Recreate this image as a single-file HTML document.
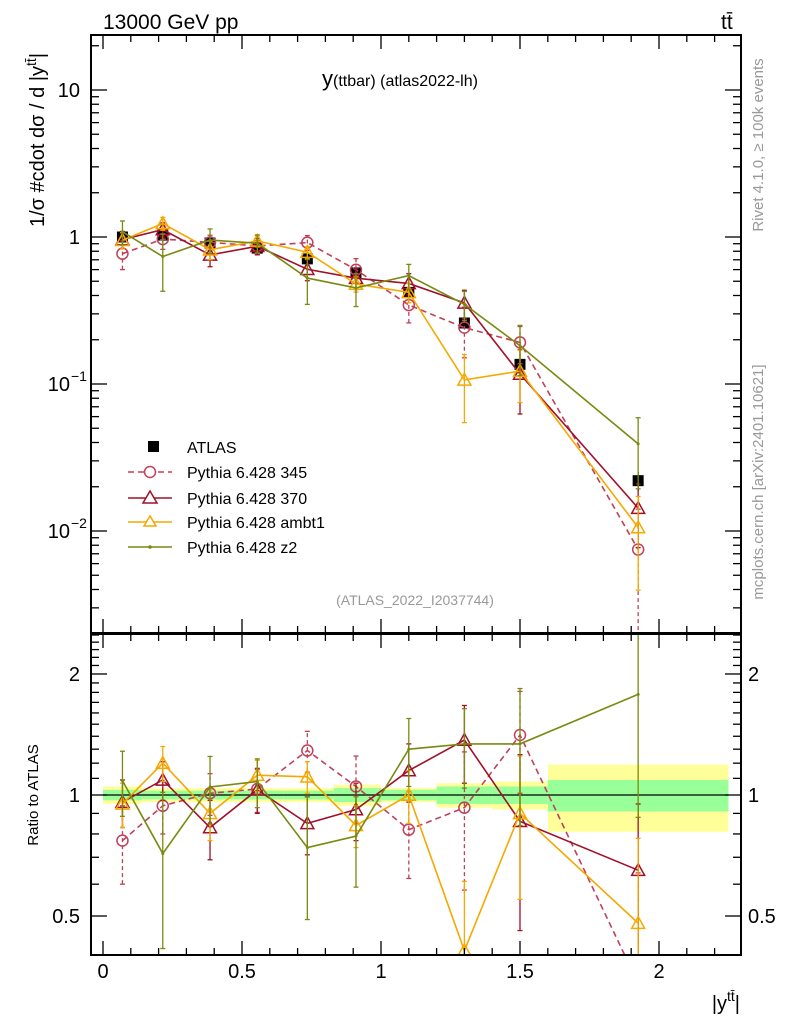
<!DOCTYPE html>
<html><head><meta charset="utf-8"><style>
html,body{margin:0;padding:0;background:#fff;width:786px;height:1024px;overflow:hidden;position:relative}
svg{display:block;font-family:"Liberation Sans",sans-serif}
</style></head><body>
<svg id="c" width="786" height="1024" viewBox="0 0 786 1024" style="position:absolute;left:0;top:0"></svg>
<script>
const binCenters=[0.07,0.215,0.385,0.555,0.735,0.91,1.1,1.3,1.5,1.925];
const binEdges=[0,0.14,0.29,0.47,0.65,0.83,1.0,1.2,1.4,1.6,2.25];
const atlasValues=[1.0,1.03,0.91,0.84,0.71,0.57,0.42,0.26,0.136,0.022];
const atlasErr=[0.04,0.04,0.04,0.04,0.05,0.05,0.05,0.07,0.07,0.15];
const bandGreen=[0.03,0.025,0.025,0.025,0.025,0.04,0.03,0.05,0.05,0.09];
const bandYellow=[0.05,0.04,0.04,0.04,0.04,0.06,0.04,0.07,0.08,0.19];
const ratio345=[0.77,0.94,1.01,1.035,1.29,1.05,0.82,0.93,1.41,0.34];
const err345=[0.17,0.14,0.12,0.13,0.15,0.2,0.2,0.35,0.4,0.3];
const ratio370=[0.96,1.09,0.83,1.03,0.85,0.92,1.15,1.37,0.86,0.65];
const err370=[0.13,0.12,0.14,0.13,0.14,0.15,0.19,0.3,0.4,0.3];
const ratioAmbt1=[0.95,1.2,0.9,1.12,1.11,0.84,1.0,0.41,0.9,0.48];
const errAmbt1=[0.12,0.12,0.13,0.1,0.1,0.1,0.15,0.2,0.35,0.3];
const ratioZ2=[1.085,0.715,1.047,1.08,0.74,0.79,1.3,1.34,1.34,1.78];
const errZ2=[0.2,0.3,0.2,0.15,0.25,0.2,0.25,0.3,0.5,0.9];
const xTicks=[0,0.5,1,1.5,2];
const xTickLabels=["0","0.5","1","1.5","2"];

const NS="http://www.w3.org/2000/svg";
const svg=document.getElementById('c');
function mk(tag,attrs,parent){const e=document.createElementNS(NS,tag);for(const k in attrs)e.setAttribute(k,attrs[k]);(parent||svg).appendChild(e);return e;}
const L=91,R=741,MT=35,MB=633,RT=634,RB=955;
const X=v=>103+v*278;
const YM=v=>237-Math.log10(v)*147;
const YR=v=>795-Math.log10(v)*402;

const defs=mk('defs',{});
const cp1=mk('clipPath',{id:'cm'},defs);mk('rect',{x:L,y:MT,width:R-L,height:MB-MT},cp1);
const cp2=mk('clipPath',{id:'cr'},defs);mk('rect',{x:L,y:RT,width:R-L,height:RB-RT},cp2);

const bands=mk('g',{'clip-path':'url(#cr)'});

for(let i=0;i<binCenters.length;i++){
  const x1=X(binEdges[i]),x2=X(binEdges[i+1]);
  const y=mk('rect',{x:x1,y:YR(1+bandYellow[i]),width:x2-x1,height:YR(1-bandYellow[i])-YR(1+bandYellow[i]),fill:'#ffff99'},bands);
  
  const g=mk('rect',{x:x1,y:YR(1+bandGreen[i]),width:x2-x1,height:YR(1-bandGreen[i])-YR(1+bandGreen[i]),fill:'#99ff99'},bands);
  
}
mk('line',{x1:X(0),x2:X(2.25),y1:YR(1),y2:YR(1),stroke:'#000','stroke-width':1.3});

const series=[
 {name:'pythia-345',r:ratio345,e:err345,col:'#c0405a',dash:'6,4',mark:'circle'},
 {name:'pythia-370',r:ratio370,e:err370,col:'#a0102a',dash:'',mark:'tri'},
 {name:'pythia-ambt1',r:ratioAmbt1,e:errAmbt1,col:'#f5a800',dash:'',mark:'tri'},
 {name:'pythia-z2',r:ratioZ2,e:errZ2,col:'#7a8a10',dash:'',mark:'dot'}
];
function marker(g,m,x,y,col){
  if(m==='circle')return mk('circle',{cx:x,cy:y,r:5.5,fill:'none',stroke:col,'stroke-width':1.5},g);
  if(m==='tri'){const s=6.5;return mk('polygon',{points:`${x},${y-s} ${x-s},${y+s*0.8} ${x+s},${y+s*0.8}`,fill:'none',stroke:col,'stroke-width':1.5},g);}
  return mk('circle',{cx:x,cy:y,r:1.5,fill:col},g);
}
function drawSeries(s,Y,vals,errs,clip,panel){
  const g=mk('g',{'clip-path':`url(#${clip})`});
  
  const pts=vals.map((v,i)=>[X(binCenters[i]),Y(v)]);
  mk('polyline',{points:pts.map(p=>p.join(',')).join(' '),fill:'none',stroke:s.col,'stroke-width':1.6,'stroke-dasharray':s.dash},g);
  vals.forEach((v,i)=>{
    const x=X(binCenters[i]);const lo=Math.max(v-errs[i],1e-4),hi=v+errs[i];
    mk('line',{x1:x,x2:x,y1:Y(lo),y2:Y(hi),stroke:s.col,'stroke-width':1.3,'stroke-dasharray':s.dash?'4,3':''},g);
    mk('line',{x1:x-2.5,x2:x+2.5,y1:Y(lo),y2:Y(lo),stroke:s.col,'stroke-width':1.3},g);
    mk('line',{x1:x-2.5,x2:x+2.5,y1:Y(hi),y2:Y(hi),stroke:s.col,'stroke-width':1.3},g);
    const m=marker(g,s.mark,x,Y(v),s.col);
    
    
  });
}
const ag=mk('g',{'clip-path':'url(#cm)'});

atlasValues.forEach((v,i)=>{
  const x=X(binCenters[i]);
  mk('line',{x1:x,x2:x,y1:YM(v*(1-atlasErr[i])),y2:YM(v*(1+atlasErr[i])),stroke:'#000','stroke-width':1.3},ag);
  const r=mk('rect',{x:x-5.5,y:YM(v)-5.5,width:11,height:11,fill:'#000'},ag);
  
});
series.forEach(s=>{
  const mv=s.r.map((r,i)=>r*atlasValues[i]);
  const me=s.e.map((e,i)=>e*atlasValues[i]);
  drawSeries(s,YM,mv,me,'cm','main');
  drawSeries(s,YR,s.r,s.e,'cr','ratio');
});

const f1=mk('rect',{x:L,y:MT,width:R-L,height:MB-MT,fill:'none',stroke:'#000','stroke-width':2});

const f2=mk('rect',{x:L,y:RT,width:R-L,height:RB-RT,fill:'none',stroke:'#000','stroke-width':2});


const tk=mk('g',{stroke:'#000','stroke-width':1.3});
for(let v=0;v<=2.25;v+=0.1){
  const x=X(v);const major=Math.abs(v*2-Math.round(v*2))<1e-6;const l=major?14:7;
  [[MT,1],[MB,-1],[RT,1],[RB,-1]].forEach(([y,d])=>mk('line',{x1:x,x2:x,y1:y,y2:y+d*l},tk));
}
xTicks.forEach((v,i)=>{
  const t=mk('text',{x:X(v),y:978,'font-size':20,'text-anchor':'middle'});t.textContent=xTickLabels[i];
  
});
for(let d=-3;d<=1;d++){for(let m=1;m<10;m++){const v=m*Math.pow(10,d);const y=YM(v);if(y<MT||y>MB)continue;const l=m===1?16:8;
  mk('line',{x1:L,x2:L+l,y1:y,y2:y},tk);mk('line',{x1:R,x2:R-l,y1:y,y2:y},tk);}}
const ylabs=[[10,'10',''],[1,'1',''],[0.1,'10','−1'],[0.01,'10','−2']];
ylabs.forEach(([v,b,e])=>{
  const t=mk('text',{x:e?70:80,y:YM(v)+7,'font-size':20,'text-anchor':'end'});t.textContent=b;
  
  if(e){const s=mk('text',{x:71,y:YM(v)-3,'font-size':14});s.textContent=e;}
});
[0.4,0.5,0.6,0.7,0.8,0.9,1,1.1,1.2,1.3,1.4,1.5,1.6,1.7,1.8,1.9,2,2.1,2.2,2.3,2.4,2.5].forEach(v=>{
  const y=YR(v);if(y<RT||y>RB)return;const major=(v===0.5||v===1||v===2);const l=major?16:8;
  mk('line',{x1:L,x2:L+l,y1:y,y2:y},tk);mk('line',{x1:R,x2:R-l,y1:y,y2:y},tk);
});
[[2,'2'],[1,'1'],[0.5,'0.5']].forEach(([v,s])=>{
  const a=mk('text',{x:80,y:YR(v)+7,'font-size':20,'text-anchor':'end'});a.textContent=s;
  
  const b=mk('text',{x:748,y:YR(v)+7,'font-size':20});b.textContent=s;
  
});
</script>
<svg width="786" height="1024" style="position:absolute;left:0;top:0;font-family:'Liberation Sans',sans-serif">
<text x="103" y="29" font-size="21">13000 GeV pp</text>
<text x="721" y="29" font-size="21">tt̄</text>
<text x="322" y="86" font-size="22">y<tspan font-size="16">(ttbar) (atlas2022-lh)</tspan></text>
<text x="415" y="605" font-size="14" fill="#999" text-anchor="middle">(ATLAS_2022_I2037744)</text>
<text transform="translate(763,145) rotate(-90)" font-size="15" fill="#999" text-anchor="middle">Rivet 4.1.0, ≥ 100k events</text>
<text transform="translate(763,482) rotate(-90)" font-size="15" fill="#999" text-anchor="middle">mcplots.cern.ch [arXiv:2401.10621]</text>
<text transform="translate(44,140) rotate(-90)" font-size="20" text-anchor="middle">1/σ #cdot dσ / d |y<tspan font-size="14" dy="-8">tt̄</tspan><tspan dy="8">|</tspan></text>
<text transform="translate(38,795) rotate(-90)" font-size="15" text-anchor="middle">Ratio to ATLAS</text>
<text x="740" y="1010" font-size="20" text-anchor="end">|y<tspan font-size="14" dy="-9">tt̄</tspan><tspan dy="9">|</tspan></text>
<g font-size="16">
 <rect x="148" y="441" width="11" height="11" fill="#000"/>
 <text x="187" y="453">ATLAS</text>
 <line x1="128" x2="172" y1="472" y2="472" stroke="#c0405a" stroke-width="1.6" stroke-dasharray="6,4"/>
 <circle cx="150" cy="472" r="5.5" fill="#fff" stroke="#c0405a" stroke-width="1.5"/>
 <text x="187" y="478">Pythia 6.428 345</text>
 <line x1="128" x2="172" y1="498" y2="498" stroke="#a0102a" stroke-width="1.6"/>
 <polygon points="150,491 143,503 157,503" fill="#fff" stroke="#a0102a" stroke-width="1.5"/>
 <text x="187" y="504">Pythia 6.428 370</text>
 <line x1="128" x2="172" y1="522" y2="522" stroke="#f5a800" stroke-width="1.6"/>
 <polygon points="150,516 144,526 156,526" fill="#fff" stroke="#f5a800" stroke-width="1.5"/>
 <text x="187" y="528">Pythia 6.428 ambt1</text>
 <line x1="128" x2="172" y1="547" y2="547" stroke="#7a8a10" stroke-width="1.6"/>
 <circle cx="150" cy="547" r="1.8" fill="#7a8a10"/>
 <text x="187" y="553">Pythia 6.428 z2</text>
</g>
</svg>
</body></html>
